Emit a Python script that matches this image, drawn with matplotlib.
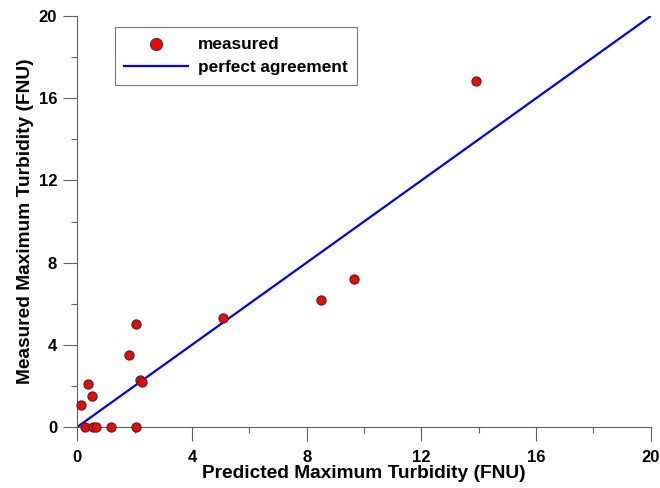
import matplotlib
matplotlib.use('Agg')
import matplotlib.pyplot as plt
from matplotlib.ticker import MultipleLocator

plt.rcParams['font.family'] = ['Liberation Sans', 'DejaVu Sans']
plt.rcParams['font.weight'] = 'bold'

# measured vs predicted maximum turbidity (FNU)
predicted = [0.13, 0.39, 0.51, 0.28, 0.56, 0.64, 1.17, 2.05, 2.05, 1.81, 2.18, 2.26,
             5.1, 8.51, 9.65, 13.92]
measured = [1.08, 2.1, 1.49, 0.0, 0.0, 0.0, 0.0, 0.0, 5.0, 3.52, 2.31, 2.18,
            5.29, 6.18, 7.18, 16.84]
agreement = [0, 20]

fig = plt.figure(figsize=(6.6, 4.88), dpi=100)
ax = fig.add_axes([0.117, 0.125, 0.869, 0.842])

ax.plot(agreement, agreement, color='#0000ff', lw=1.6, label='perfect agreement', zorder=2)
ax.scatter(predicted, measured, s=44, color='#ff0000', edgecolor='#333333', lw=0.8,
           label='measured', zorder=3, clip_on=False)

ax.set_xlim(0, 20)
ax.set_ylim(0, 20)
ax.xaxis.set_major_locator(MultipleLocator(4))
ax.xaxis.set_minor_locator(MultipleLocator(2))
ax.yaxis.set_major_locator(MultipleLocator(4))
ax.yaxis.set_minor_locator(MultipleLocator(2))
ax.tick_params(which='major', direction='out', length=10, width=0.8, color='#606060', labelsize=12)
ax.tick_params(which='minor', direction='out', length=4.3, width=0.8, color='#606060')
ax.tick_params(axis='x', which='major', pad=6.5)
ax.tick_params(axis='y', which='major', pad=4.5)
for lab in ax.get_xticklabels() + ax.get_yticklabels():
    lab.set_fontweight('bold')

for s in ['top', 'right']:
    ax.spines[s].set_visible(False)
for s in ['left', 'bottom']:
    ax.spines[s].set_color('#606060')
    ax.spines[s].set_linewidth(0.8)

ax.set_xlabel('Predicted Maximum Turbidity (FNU)', fontsize=13.8, fontweight='bold', labelpad=0)
ax.set_ylabel('Measured Maximum Turbidity (FNU)', fontsize=13.8, fontweight='bold', labelpad=3)

h, l = ax.get_legend_handles_labels()
leg = ax.legend(h[::-1], l[::-1], loc='upper left', bbox_to_anchor=(115 / 660, 1 - 27 / 488),
                bbox_transform=fig.transFigure, fancybox=False,
                edgecolor='#777777', framealpha=1, fontsize=12.4, handlelength=3.7,
                handletextpad=0.55, borderpad=0.55, labelspacing=0.5, markerscale=1.3,
                borderaxespad=0)
leg.get_frame().set_linewidth(0.8)
for t in leg.get_texts():
    t.set_fontweight('bold')

fig.savefig('out.png', dpi=100)
